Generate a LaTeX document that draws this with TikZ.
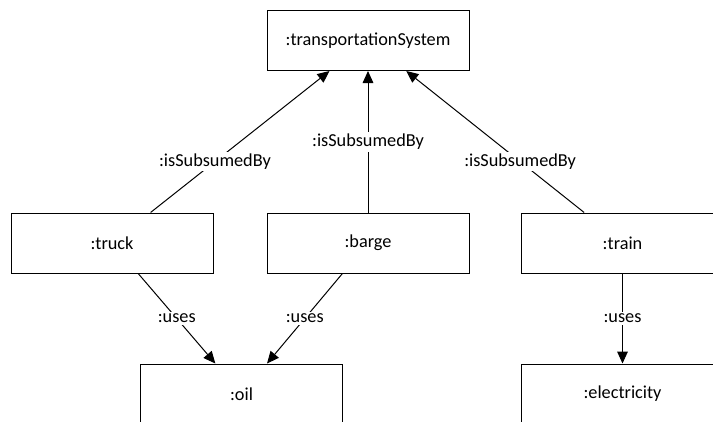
\documentclass[tikz,border=0pt]{standalone}
\usepackage{fontspec}
\setmainfont{Carlito}
\usetikzlibrary{arrows.meta}
\begin{document}
\begin{tikzpicture}[x=0.75pt, y=-0.75pt,
    obj/.style={draw, rectangle, line width=0.75pt, minimum width=151.5pt, minimum height=45pt, inner sep=0pt, font=\fontsize{13.7}{16}\selectfont},
    rel/.style={-{Triangle[length=9pt, width=8pt]}, line width=0.75pt},
    lbl/.style={fill=white, inner sep=1.5pt, font=\fontsize{13.7}{16}\selectfont}]
    \useasboundingbox (0,0) rectangle (713,421);
    \clip (0,0) rectangle (713,421);

    % Top object
    \node[obj] (system) at (368,40.5) {:transportationSystem};

    % Transport modes
    \node[obj] (truck) at (112,243) {:truck};
    \node[obj] (barge) at (368,243) {:barge};
    \node[obj] (train) at (622.5,243) {:train};

    % Resources
    \node[obj] (oil) at (241.5,394) {:oil};
    \node[obj] (electricity) at (622.5,394) {:electricity};

    % Subsumption
    \draw[rel] (truck) -- node[lbl, pos=0.36] {:isSubsumedBy} (system);
    \draw[rel] (barge) -- node[lbl, pos=0.5] {:isSubsumedBy} (system);
    \draw[rel] (train) -- node[lbl, pos=0.36] {:isSubsumedBy} (system);

    % Usage
    \draw[rel] (truck) -- node[lbl] {:uses} (oil);
    \draw[rel] (barge) -- node[lbl] {:uses} (oil);
    \draw[rel] (train) -- node[lbl] {:uses} (electricity);
\end{tikzpicture}
\end{document}
